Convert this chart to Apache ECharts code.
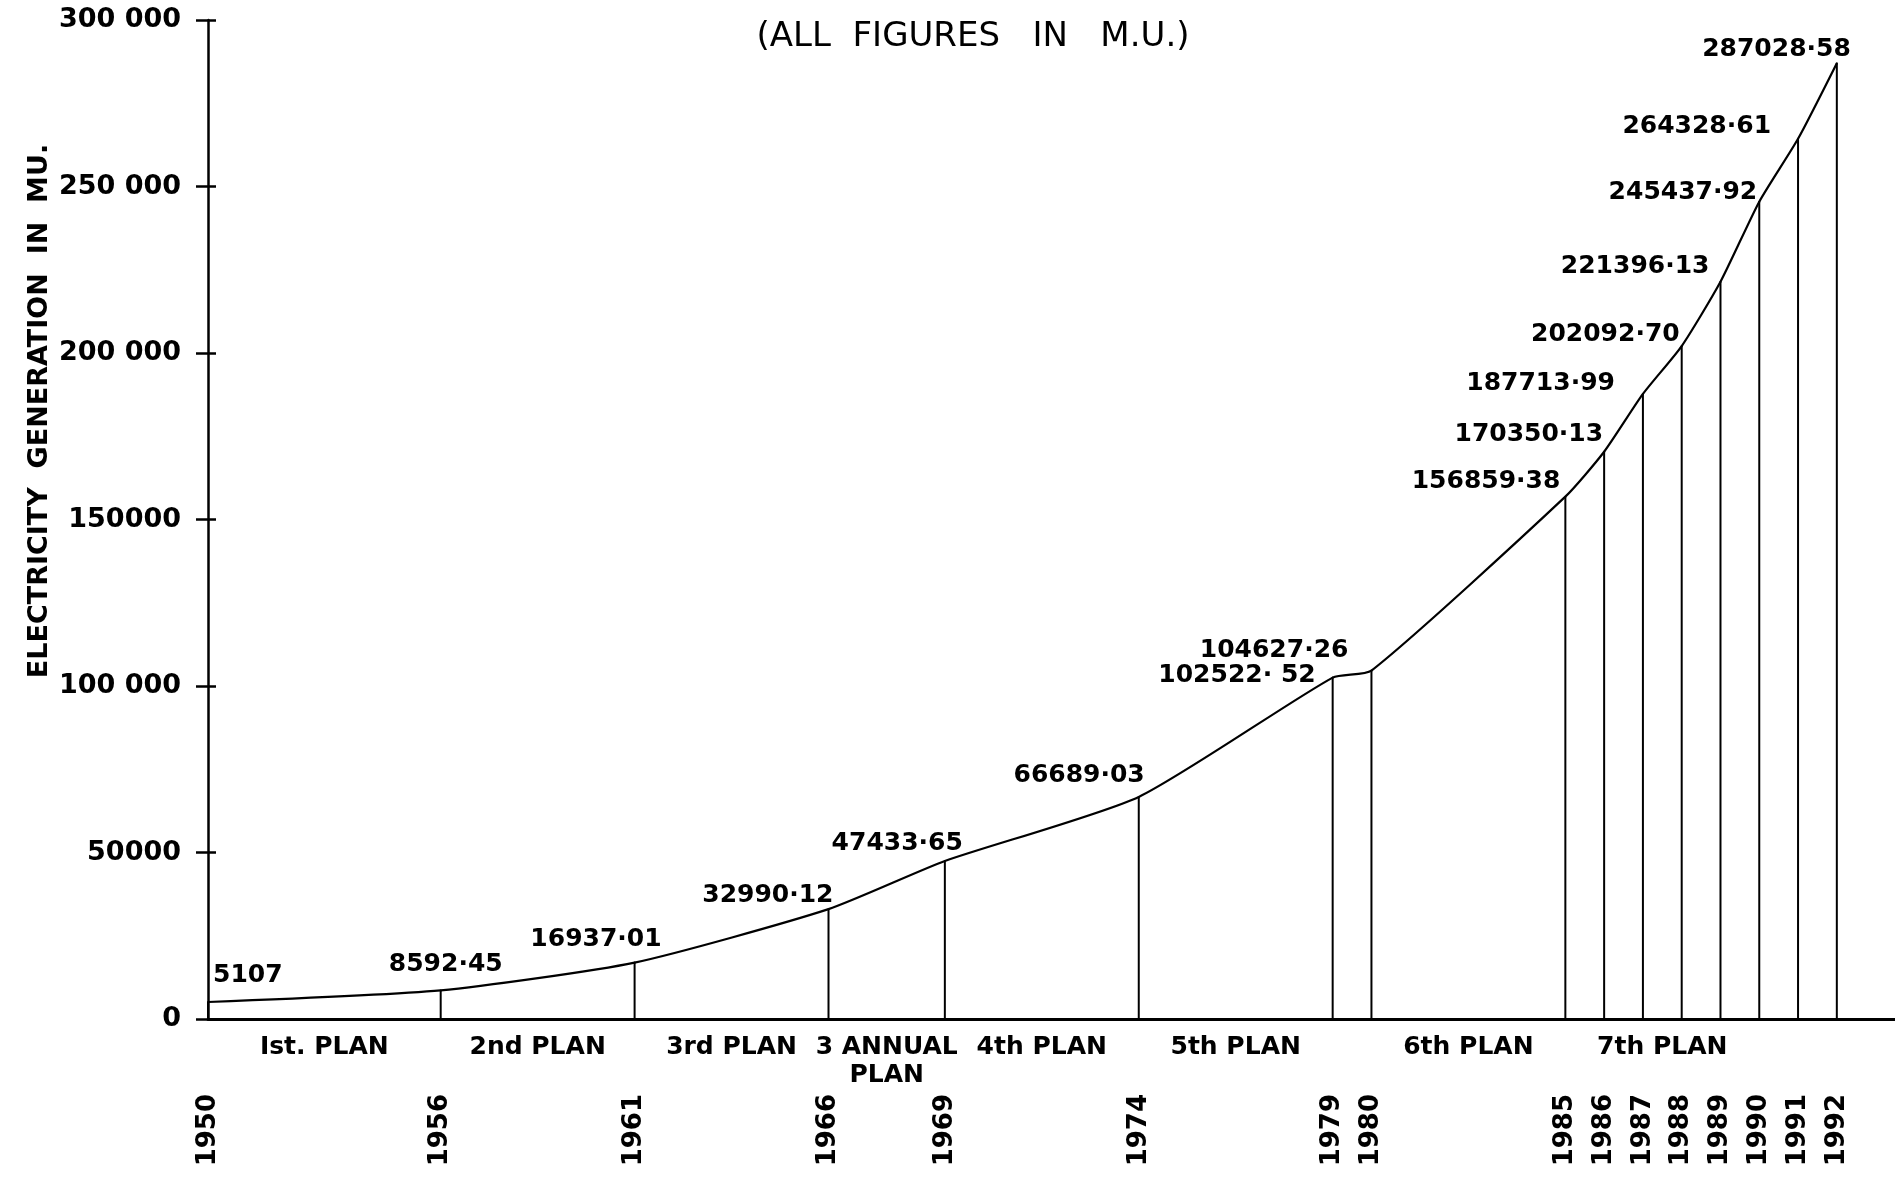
<!DOCTYPE html>
<html><head><meta charset="utf-8">
<script src="https://cdn.jsdelivr.net/npm/echarts@6/dist/echarts.min.js"></script>
<style>html,body{margin:0;padding:0;background:#fff}#main{width:1895px;height:1184px}</style>
</head><body><div id="main"></div>
<script>
// ---- data ----
const years = [1950, 1956, 1961, 1966, 1969, 1974, 1979, 1980, 1985, 1986, 1987, 1988, 1989, 1990, 1991, 1992];
const values = [5107, 8592.45, 16937.01, 32990.12, 47433.65, 66689.03, 102522.52, 104627.26, 156859.38, 170350.13, 187713.99, 202092.70, 221396.13, 245437.92, 264328.61, 287028.58];
const valueLabels = ['5107', '8592·45', '16937·01', '32990·12', '47433·65', '66689·03', '102522· 52', '104627·26', '156859·38', '170350·13', '187713·99', '202092·70', '221396·13', '245437·92', '264328·61', '287028·58'];
const yTickLabels = { 0: '0', 50000: '50000', 100000: '100 000', 150000: '150000', 200000: '200 000', 250000: '250 000', 300000: '300 000' };
const planNames = ['Ist. PLAN', '2nd PLAN', '3rd PLAN', '3 ANNUAL\nPLAN', '4th PLAN', '5th PLAN', '6th PLAN', '7th PLAN'];
const planStart = [1950, 1956, 1961, 1966, 1969, 1974, 1980, 1985];
const planEnd = [1956, 1961, 1966, 1969, 1974, 1979, 1985, 1990];
const titleText = '(ALL  FIGURES   IN   M.U.)';
const yAxisTitle = 'ELECTRICITY  GENERATION  IN  MU.';

// ---- label placement (style) ----
const labelPlace = [
  ['left', 5, -26], ['right', 62, -26], ['right', 27, -23], ['right', 5, -14],
  ['right', 18, -18], ['right', 6, -21], ['right', -17, -2], ['right', -23, -20],
  ['right', -5, -15], ['right', -1, -17], ['right', -28, -10], ['right', -2, -12],
  ['right', -11, -15], ['right', -2, -9], ['right', -27, -12], ['right', 14, -14]
];

const FONT = 'DejaVu Sans';
const chart = echarts.init(document.getElementById('main'), null, { renderer: 'canvas' });

const lineData = years.map((y, i) => ({
  value: [y, values[i]],
  label: {
    formatter: valueLabels[i],
    align: labelPlace[i][0],
    offset: [labelPlace[i][1], labelPlace[i][2]]
  }
}));
const dropData = years.map((y, i) => [y, values[i]]);
const planData = planNames.map((n, i) => ({ value: [(planStart[i] + planEnd[i]) / 2, 0], name: n }));

const option = {
  animation: false,
  backgroundColor: '#fff',
  title: {
    text: titleText, left: 968, top: 15, textAlign: 'center',
    textStyle: { fontFamily: FONT, fontSize: 34, fontWeight: 'normal', color: '#000' }
  },
  graphic: [{
    type: 'text', x: 40, y: 411, rotation: Math.PI / 2,
    style: { text: yAxisTitle, fontFamily: FONT, fontSize: 27, fontWeight: 'bold', fill: '#000', align: 'center', verticalAlign: 'middle' }
  }],
  grid: { left: 208, right: 0, top: 20, bottom: 165, containLabel: false },
  xAxis: {
    type: 'value', min: 1950, max: 1993.5,
    axisLine: { show: true, lineStyle: { color: '#000', width: 3 } },
    axisTick: { show: false },
    splitLine: { show: false },
    axisLabel: {
      customValues: years, rotate: 90, margin: 75,
      formatter: v => String(v),
      fontFamily: FONT, fontSize: 26, fontWeight: 'bold', color: '#000'
    }
  },
  yAxis: [{
    type: 'value', min: 0, max: 300000, interval: 50000,
    axisLine: { show: true, lineStyle: { color: '#000', width: 2.5 } },
    axisTick: { show: true, length: 12, lineStyle: { color: '#000', width: 2.5 } },
    splitLine: { show: false },
    axisLabel: {
      margin: 27, formatter: v => yTickLabels[v],
      fontFamily: FONT, fontSize: 27, fontWeight: 'bold', color: '#000'
    }
  }, {
    type: 'value', min: 0, max: 300000, interval: 50000, position: 'left',
    axisLine: { show: false },
    axisTick: { show: true, inside: true, length: 8, lineStyle: { color: '#000', width: 2.5 } },
    axisLabel: { show: false },
    splitLine: { show: false }
  }],
  series: [{
    type: 'bar', data: dropData, barWidth: 2, silent: true,
    itemStyle: { color: '#000' }
  }, {
    type: 'line', data: lineData, smooth: 0.2,
    symbol: 'circle', symbolSize: 2, showSymbol: true,
    lineStyle: { color: '#000', width: 2.2 },
    itemStyle: { color: '#000' },
    label: {
      show: true, position: 'inside', verticalAlign: 'middle',
      fontFamily: FONT, fontSize: 25, fontWeight: 'bold', color: '#000'
    },
    z: 3
  }, {
    type: 'scatter', data: planData, symbolSize: 1, clip: false, silent: true,
    itemStyle: { color: 'rgba(0,0,0,0)', opacity: 1 },
    label: {
      show: true, formatter: p => p.name, position: 'inside',
      align: 'center', verticalAlign: 'top', offset: [0, 14], lineHeight: 28,
      fontFamily: FONT, fontSize: 25, fontWeight: 'bold', color: '#000', opacity: 1
    }
  }]
};
chart.setOption(option);
</script>
</body></html>
